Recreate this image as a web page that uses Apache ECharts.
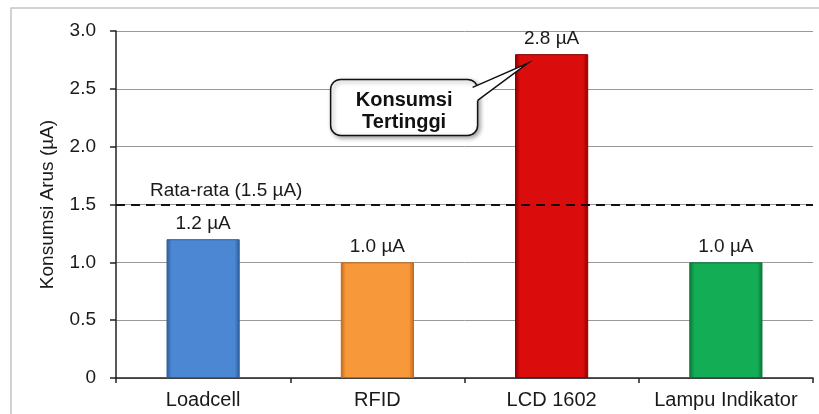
<!DOCTYPE html>
<html>
<head>
<meta charset="utf-8">
<script src="https://cdn.jsdelivr.net/npm/echarts@6/dist/echarts.min.js"></script>
<style>
  html, body { margin: 0; padding: 0; background: #ffffff; }
  #chart { width: 819px; height: 414px; }
</style>
</head>
<body>
<div id="chart"></div>
<script>
// Current consumption per component (µA)
const categories = ['Loadcell', 'RFID', 'LCD 1602', 'Lampu Indikator'];
const values = [1.2, 1.0, 2.8, 1.0];
const average = 1.5;
const averageLabel = 'Rata-rata (1.5 µA)';
const calloutText = 'Konsumsi\nTertinggi';
const yAxisName = 'Konsumsi Arus (µA)';

// Bar fills: [face colour, edge colour]
const barPalette = [
  ['#4b87d2', '#2e5c9a'],
  ['#f7993a', '#c0691c'],
  ['#da0c0c', '#8c0000'],
  ['#13ad56', '#0a7436']
];

const FONT = '"Liberation Sans", Arial, sans-serif';

function barFill(face, edge) {
  return {
    type: 'linear', x: 0, y: 0, x2: 1, y2: 0,
    colorStops: [
      { offset: 0, color: edge },
      { offset: 0.07, color: face },
      { offset: 0.93, color: face },
      { offset: 1, color: edge }
    ]
  };
}

const chart = echarts.init(document.getElementById('chart'));

const option = {
  backgroundColor: '#ffffff',
  animation: false,
  grid: { left: 116, right: 6, top: 31, bottom: 36, containLabel: false },
  xAxis: {
    type: 'category',
    data: categories,
    axisLine: { show: true, lineStyle: { color: '#222', width: 1.5 } },
    axisTick: { show: true, length: 5, alignWithLabel: false, lineStyle: { color: '#222', width: 1.5 } },
    axisLabel: { interval: 0, color: '#1a1a1a', fontFamily: FONT, fontSize: 20, margin: 12 },
    splitLine: { show: false }
  },
  yAxis: {
    type: 'value',
    min: 0,
    max: 3,
    interval: 0.5,
    name: yAxisName,
    nameLocation: 'middle',
    nameGap: 59,
    nameTextStyle: { color: '#1a1a1a', fontFamily: FONT, fontSize: 19 },
    axisLine: { show: true, lineStyle: { color: '#222', width: 1.5 } },
    axisTick: { show: true, inside: false, length: 6, lineStyle: { color: '#222', width: 1.5 } },
    axisLabel: {
      color: '#1a1a1a', fontFamily: FONT, fontSize: 19, margin: 20,
      formatter: v => (v === 0 ? '0' : v.toFixed(1))
    },
    splitLine: { show: true, lineStyle: { color: '#999', width: 1 } }
  },
  series: [{
    type: 'bar',
    data: values.map((v, i) => ({
      value: v,
      itemStyle: {
        color: barFill(barPalette[i][0], barPalette[i][1]),
        borderColor: barPalette[i][1],
        borderWidth: 1
      }
    })),
    barWidth: '42%',
    label: {
      show: true,
      position: 'top',
      distance: 6,
      color: '#1a1a1a',
      fontFamily: FONT,
      fontSize: 19,
      formatter: p => p.value.toFixed(1) + ' µA'
    },
    markLine: {
      silent: true,
      symbol: ['none', 'none'],
      lineStyle: { color: '#111', width: 2.2, type: [9, 6] },
      label: {
        show: true,
        position: 'insideStartTop',
        distance: [34, 4],
        color: '#1a1a1a',
        fontFamily: FONT,
        fontSize: 19,
        formatter: averageLabel
      },
      data: [{ yAxis: average }]
    }
  }]
};

chart.setOption(option);

// Callout pointing at the highest bar, anchored through the axes
function drawCallout() {
  const peakIdx = values.indexOf(Math.max(...values));
  const tip0 = chart.convertToPixel({ seriesIndex: 0 }, [categories[peakIdx], values[peakIdx] - 0.08]);
  const tip = [tip0[0] - 24, tip0[1]];
  const boxW = 147, boxH = 56;
  const bx = tip[0] - 197, by = tip[1] + 16;
  const b1 = [bx + boxW - 5, by + 8];
  const b2 = [bx + boxW, by + 21];
  chart.setOption({
    graphic: [
      {
        type: 'rect', silent: true, z: 0,
        shape: { x: 11, y: 8, width: 900, height: 500 },
        style: { fill: 'none', stroke: '#c4c4c4', lineWidth: 1.5 }
      },
      {
        type: 'rect', silent: true, z: 100,
        shape: { x: bx, y: by, width: boxW, height: boxH, r: 10 },
        style: {
          fill: '#ffffff', stroke: '#111', lineWidth: 1.5,
          shadowBlur: 4, shadowOffsetX: 2, shadowOffsetY: 2, shadowColor: 'rgba(0,0,0,0.35)'
        }
      },
      {
        type: 'polygon', silent: true, z: 101,
        shape: { points: [b1, tip, b2, [b2[0] - 4, b2[1]], [b1[0] - 4, b1[1] + 2]] },
        style: { fill: '#ffffff', stroke: 'none' }
      },
      {
        type: 'polyline', silent: true, z: 102,
        shape: { points: [b1, tip, b2] },
        style: { fill: 'none', stroke: '#111', lineWidth: 1.5 }
      },
      {
        type: 'text', silent: true, z: 103,
        x: bx + boxW / 2, y: by + boxH / 2 + 4,
        style: {
          text: calloutText,
          fill: '#111',
          font: 'bold 20px ' + FONT,
          lineHeight: 22,
          align: 'center',
          verticalAlign: 'middle'
        }
      }
    ]
  });
}
drawCallout();
</script>
</body>
</html>
